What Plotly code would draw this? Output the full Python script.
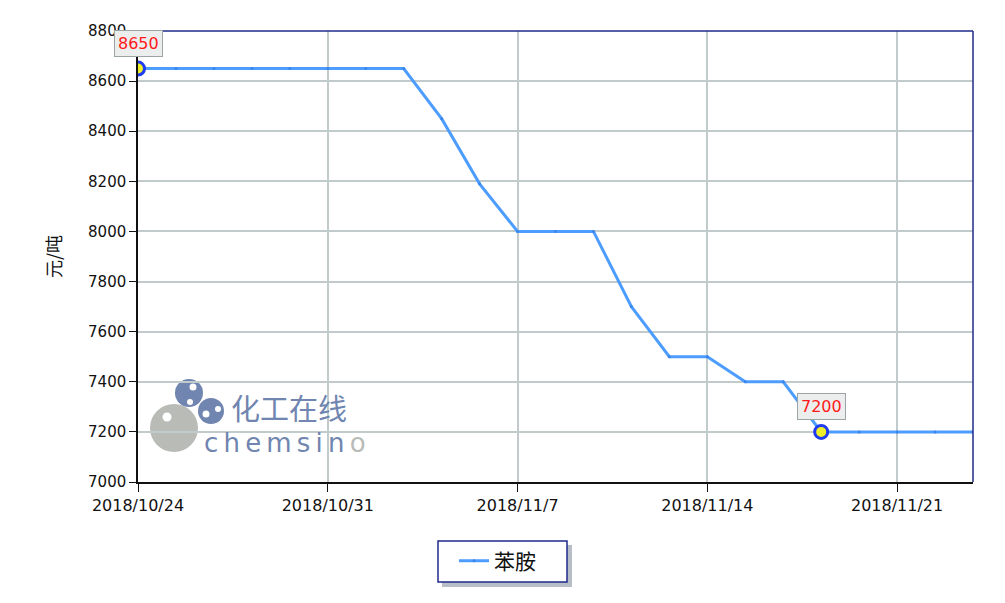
import plotly.graph_objects as go

# Aniline (苯胺) daily price, trading days only
dates = ["2018/10/24", "2018/10/25", "2018/10/26", "2018/10/29", "2018/10/30",
         "2018/10/31", "2018/11/1", "2018/11/2", "2018/11/5", "2018/11/6",
         "2018/11/7", "2018/11/8", "2018/11/9", "2018/11/12", "2018/11/13",
         "2018/11/14", "2018/11/15", "2018/11/16", "2018/11/19", "2018/11/20",
         "2018/11/21", "2018/11/22", "2018/11/23"]
prices = [8650, 8650, 8650, 8650, 8650, 8650, 8650, 8650, 8450, 8190,
          8000, 8000, 8000, 7700, 7500, 7500, 7400, 7400, 7200, 7200,
          7200, 7200, 7200]
series_name = "苯胺"
y_title = "元/吨"
tick_dates = dates[::5]

W, H = 1005, 603
L, R, T, B = 138, 32, 31, 121
PW, PH = W - L - R, H - T - B


def px(x):
    return (x - L) / PW


def py(y):
    return (H - B - y) / PH


LINE = "#4d9dff"
NAVY = "#1f2a8a"
GRID = "#c2cbcb"
LOGO_BLUE = "#7085b0"
LOGO_GREY = "#b9bbb6"

fig = go.Figure()
fig.add_trace(go.Scatter(
    x=dates, y=prices, name=series_name, mode="lines+markers",
    line=dict(color=LINE, width=3),
    marker=dict(size=3, color="#3a86ea"),
    hoverinfo="x+y",
))

# Highlight the highest and lowest price (first occurrence)
i_max = prices.index(max(prices))
i_min = prices.index(min(prices))
ext = [i_max, i_min]
fig.add_trace(go.Scatter(
    x=[dates[i] for i in ext], y=[prices[i] for i in ext],
    mode="markers", showlegend=False,
    marker=dict(size=13, color="#f0f02a", line=dict(color="#1f3cf0", width=3)),
    hoverinfo="skip",
))
for i in ext:
    fig.add_annotation(
        x=dates[i], y=prices[i], text=str(prices[i]), showarrow=False,
        yshift=25, font=dict(family="DejaVu Sans", size=16, color="#ff1a1a"),
        bgcolor="#eceeee", bordercolor="#9aa4a4", borderwidth=1, borderpad=3,
    )

shapes = []
# Top and right frame in navy
shapes.append(dict(type="line", xref="paper", yref="paper", x0=0, x1=1, y0=1, y1=1,
                   line=dict(color=NAVY, width=1.5), layer="above"))
shapes.append(dict(type="line", xref="paper", yref="paper", x0=1, x1=1, y0=0, y1=1,
                   line=dict(color=NAVY, width=1.5), layer="above"))


# Watermark logo
def circle(cx, cy, r, color):
    return dict(type="circle", xref="paper", yref="paper",
                x0=px(cx - r), x1=px(cx + r), y0=py(cy + r), y1=py(cy - r),
                fillcolor=color, line=dict(width=0), layer="between")


shapes += [
    circle(174, 428, 24, LOGO_GREY),
    circle(189, 393, 14, LOGO_BLUE),
    circle(211, 411, 13, LOGO_BLUE),
    circle(167, 417, 4.5, "#ffffff"),
    circle(193, 387, 3.5, "#ffffff"),
    circle(190, 402, 3, "#ffffff"),
    circle(206, 414, 3.5, "#ffffff"),
    circle(218, 409, 3, "#ffffff"),
]

# Legend frame with drop shadow
shapes.append(dict(type="rect", xref="paper", yref="paper",
                   x0=px(442), x1=px(572), y0=py(587), y1=py(545),
                   fillcolor="#9aa3b0", line=dict(width=0), opacity=0.7))
shapes.append(dict(type="rect", xref="paper", yref="paper",
                   x0=px(438), x1=px(567), y0=py(582), y1=py(541),
                   fillcolor="#ffffff", line=dict(color=NAVY, width=1.5)))

fig.add_annotation(x=px(229), y=py(407), xref="paper", yref="paper",
                   xanchor="left", yanchor="middle", showarrow=False,
                   text="化工在线",
                   font=dict(family="Noto Sans CJK SC", size=29, color=LOGO_BLUE))
# "chemsino" letter-spaced with thin spaces, the final "o" in grey
thin = "\u2009"
fig.add_annotation(x=px(202), y=py(443), xref="paper", yref="paper",
                   xanchor="left", yanchor="middle", showarrow=False,
                   text=("<span style='color:%s'>%s</span>%s<span style='color:%s'>o</span>"
                         % (LOGO_BLUE, thin.join("chemsin"), thin, LOGO_GREY)),
                   font=dict(family="DejaVu Sans", size=26, color=LOGO_BLUE))

fig.update_layout(
    width=W, height=H,
    margin=dict(l=L, r=R, t=T, b=B, pad=0),
    paper_bgcolor="white", plot_bgcolor="white",
    font=dict(family="DejaVu Sans", size=15, color="#111111"),
    shapes=shapes,
    showlegend=True,
    legend=dict(x=px(454), y=py(561), xanchor="left", yanchor="middle",
                bgcolor="rgba(0,0,0,0)", borderwidth=0,
                font=dict(family="Noto Sans CJK SC", size=21, color="#111111")),
    xaxis=dict(
        type="category", range=[0, len(dates) - 1],
        tickmode="array", tickvals=tick_dates, ticktext=tick_dates,
        showgrid=True, gridcolor=GRID, gridwidth=1.5,
        showline=True, linecolor="#111111", linewidth=1.5,
        ticks="outside", ticklen=8, tickcolor="#111111",
        tickfont=dict(family="DejaVu Sans", size=16, color="#111111"),
        zeroline=False, fixedrange=True,
    ),
    yaxis=dict(
        range=[7000, 8800], dtick=200, tick0=7000,
        showgrid=True, gridcolor=GRID, gridwidth=1.5,
        showline=True, linecolor="#111111", linewidth=1.5,
        ticks="outside", ticklen=7, tickcolor="#111111",
        tickfont=dict(family="DejaVu Sans", size=15, color="#111111"),
        title=dict(text=y_title, standoff=22,
                   font=dict(family="Noto Sans CJK SC", size=18, color="#111111")),
        zeroline=False, fixedrange=True,
    ),
)

fig.write_html("out.html")
